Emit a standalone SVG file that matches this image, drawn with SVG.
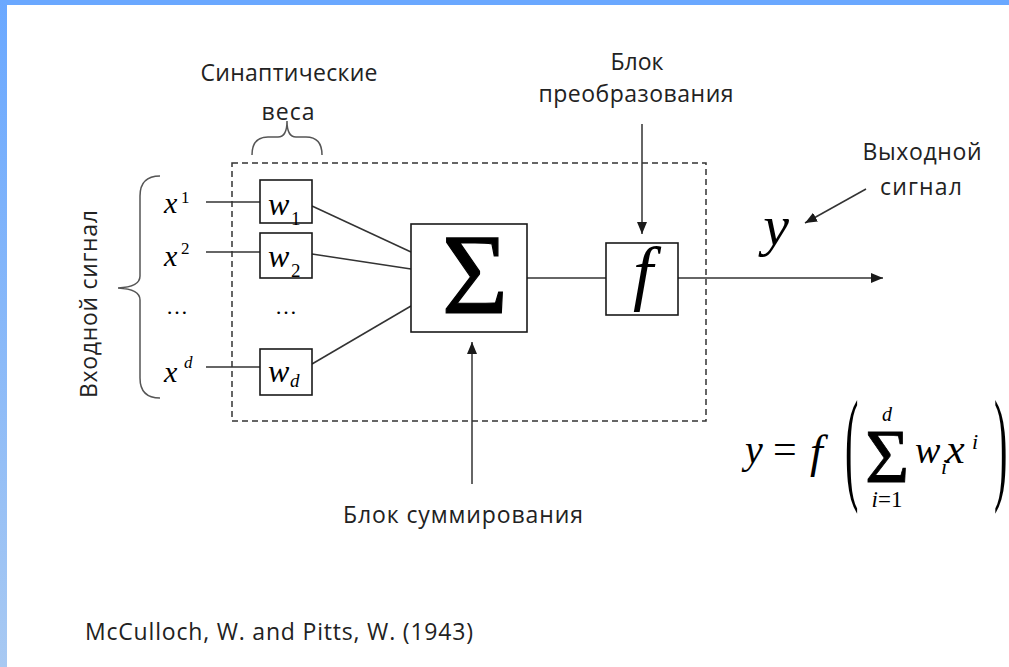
<svg xmlns="http://www.w3.org/2000/svg" width="1009" height="667" viewBox="0 0 1009 667">
  <defs>
    <linearGradient id="sideBand" x1="0" y1="0" x2="0" y2="1">
      <stop offset="0" stop-color="#6aa8ff"/>
      <stop offset="1" stop-color="#a8c9f2"/>
    </linearGradient>
    <marker id="arrowHead" markerUnits="userSpaceOnUse" markerWidth="12" markerHeight="10" viewBox="0 0 12 10" refX="12" refY="5" orient="auto">
      <path d="M0,0 L12,5 L0,10 Z" fill="#1a1a1a"/>
    </marker>
    <style>
      .label { font-family: "Open Sans", "Noto Sans", "DejaVu Sans", sans-serif; font-size: 23px; fill: #222; }
      .math { font-family: "Liberation Serif", "Times New Roman", serif; font-style: italic; fill: #000; }
      .mathUp { font-family: "Liberation Serif", "Times New Roman", serif; fill: #000; }
      .box { fill: #fff; stroke: #1a1a1a; stroke-width: 1.6; }
      .wire { stroke: #333; stroke-width: 1.5; fill: none; }
      .brace { stroke: #555; stroke-width: 1.5; fill: none; }
      .frame { fill: none; stroke: #333; stroke-width: 1.5; stroke-dasharray: 6 4; }
    </style>
  </defs>

  <!-- slide background and coloured edge bands -->
  <rect x="0" y="0" width="1009" height="667" fill="#fff"/>
  <rect x="0" y="0" width="1009" height="5" fill="#6aa8ff"/>
  <rect x="0" y="0" width="7" height="667" fill="url(#sideBand)"/>

  <!-- neuron boundary -->
  <rect class="frame" x="232" y="163" width="474" height="258"/>

  <!-- connectors -->
  <g id="connectors">
    <line class="wire" x1="206" y1="202" x2="260" y2="202"/>
    <line class="wire" x1="206" y1="252" x2="260" y2="252"/>
    <line class="wire" x1="206" y1="367" x2="260" y2="367"/>
    <line class="wire" x1="312" y1="206" x2="411" y2="252"/>
    <line class="wire" x1="312" y1="254" x2="411" y2="269"/>
    <line class="wire" x1="312" y1="364" x2="411" y2="306"/>
    <line class="wire" x1="527" y1="278" x2="606" y2="278"/>
    <line class="wire" x1="678" y1="278" x2="883" y2="278" marker-end="url(#arrowHead)"/>
    <line class="wire" x1="642" y1="124" x2="642" y2="234" marker-end="url(#arrowHead)"/>
    <line class="wire" x1="472" y1="484" x2="472" y2="342" marker-end="url(#arrowHead)"/>
    <line class="wire" x1="866" y1="189" x2="805" y2="223" marker-end="url(#arrowHead)"/>
  </g>

  <!-- input signals -->
  <g id="inputs">
    <path class="brace" d="M160,176 Q140,176 140,196 L140,276 Q140,287 118,288 Q140,289 140,300 L140,378 Q140,398 160,398"/>
    <text class="label" transform="translate(97,304) rotate(-90)" text-anchor="middle" textLength="188">Входной сигнал</text>
    <text class="math" x="164" y="213" font-size="30">x</text>
    <text class="mathUp" x="181" y="203" font-size="17">1</text>
    <text class="math" x="164" y="266" font-size="30">x</text>
    <text class="mathUp" x="181" y="254" font-size="17">2</text>
    <text class="mathUp" x="166" y="314" font-size="22">…</text>
    <text class="math" x="164" y="382" font-size="30">x</text>
    <text class="math" x="184" y="368" font-size="17">d</text>
  </g>

  <!-- synaptic weights -->
  <g id="weights">
    <path class="brace" d="M252,155 Q252,137 268,137 L278,137 Q287,137 287,121 Q287,137 296,137 L306,137 Q322,137 322,155"/>
    <text class="label" x="289" y="81" text-anchor="middle" textLength="177">Синаптические</text>
    <text class="label" x="288" y="120" text-anchor="middle" textLength="53">веса</text>
    <g id="w1">
      <rect class="box" x="260" y="180" width="52" height="43"/>
      <text class="math" x="268" y="215" font-size="32">w</text>
      <text class="mathUp" x="291" y="225" font-size="19">1</text>
    </g>
    <g id="w2">
      <rect class="box" x="260" y="233" width="52" height="45"/>
      <text class="math" x="268" y="267" font-size="32">w</text>
      <text class="mathUp" x="291" y="277" font-size="19">2</text>
    </g>
    <text class="mathUp" x="275" y="314" font-size="22">…</text>
    <g id="wd">
      <rect class="box" x="260" y="349" width="52" height="46"/>
      <text class="math" x="268" y="382" font-size="32">w</text>
      <text class="math" x="290" y="387" font-size="19">d</text>
    </g>
  </g>

  <!-- summation block -->
  <g id="sum">
    <rect class="box" x="411" y="224" width="116" height="108"/>
    <text class="mathUp" x="475" y="313" font-size="114" text-anchor="middle" stroke="#000" stroke-width="1.2">Σ</text>
    <text class="label" x="463" y="523" text-anchor="middle" textLength="240">Блок суммирования</text>
  </g>

  <!-- activation block -->
  <g id="activation">
    <rect class="box" x="606" y="243" width="72" height="72"/>
    <text class="math" x="643" y="297" font-size="72" text-anchor="middle">f</text>
    <text class="label" x="637" y="70" text-anchor="middle" textLength="53">Блок</text>
    <text class="label" x="636" y="102" text-anchor="middle" textLength="195">преобразования</text>
  </g>

  <!-- output -->
  <g id="output">
    <text class="math" x="776" y="245" font-size="58" text-anchor="middle">y</text>
    <text class="label" x="922" y="160" text-anchor="middle" textLength="119">Выходной</text>
    <text class="label" x="921" y="195" text-anchor="middle" textLength="82">сигнал</text>
  </g>

  <!-- output formula -->
  <g id="formula">
    <text class="math" x="745" y="463" font-size="40">y</text>
    <text class="mathUp" x="773" y="463" font-size="42">=</text>
    <text class="math" x="810" y="467" font-size="46">f</text>
    <text class="mathUp" transform="translate(845,487) scale(0.32,1)" font-size="126">(</text>
    <text class="mathUp" x="887" y="482" font-size="76" text-anchor="middle" stroke="#000" stroke-width="0.8">Σ</text>
    <text class="math" x="887" y="421" font-size="20" text-anchor="middle">d</text>
    <text class="math" x="887" y="507" font-size="23" text-anchor="middle">i<tspan class="mathUp" font-style="normal">=1</tspan></text>
    <text class="math" x="915" y="463" font-size="38">w</text>
    <text class="math" x="941" y="474" font-size="22">i</text>
    <text class="math" x="946" y="463" font-size="42">x</text>
    <text class="math" x="972" y="449" font-size="22">i</text>
    <text class="mathUp" transform="translate(994,487) scale(0.32,1)" font-size="126">)</text>
  </g>

  <!-- reference -->
  <text class="label" x="85" y="640" textLength="388">McCulloch, W. and Pitts, W. (1943)</text>
</svg>
